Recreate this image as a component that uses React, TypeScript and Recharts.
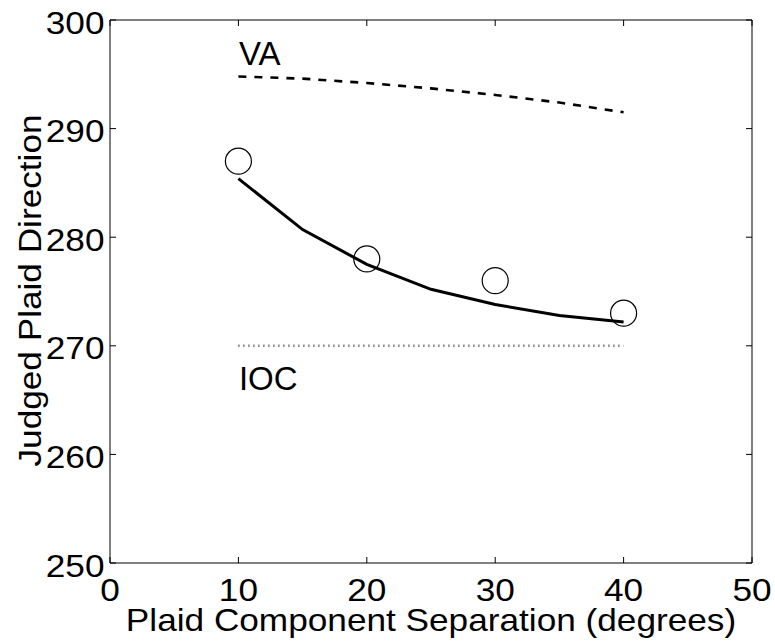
import React from 'react';
import { ComposedChart, Line, Scatter, XAxis, YAxis, ReferenceDot } from 'recharts';

// model curves are sampled every 5 degrees of separation
const curveSep = [10, 15, 20, 25, 30, 35, 40];
const modelFit = [285.4, 280.7, 277.5, 275.2, 273.8, 272.8, 272.2];
const vaPrediction = [294.8, 294.6, 294.2, 293.7, 293.1, 292.4, 291.5];

const iocSep = [10, 40];
const iocPrediction = [270, 270];

// observed judgements (open circles)
const observedSep = [10, 20, 30, 40];
const observedDir = [287, 278, 276, 273];

const xTicks = [0, 10, 20, 30, 40, 50];
const yTicks = [250, 260, 270, 280, 290, 300];

const pair = (xs: number[], ys: number[]) => xs.map((x, i) => ({ x, y: ys[i] }));

const fitData = pair(curveSep, modelFit);
const vaData = pair(curveSep, vaPrediction);
const iocData = pair(iocSep, iocPrediction);
const obsData = pair(observedSep, observedDir);

const FONT = '"Liberation Sans", Arial, Helvetica, sans-serif';
// the original text is a little wider than Arial at the same height
const STRETCH = 1.1;
const TICK = 6; // inward tick length
const X_MARGIN = 20.5;
const Y_MARGIN = 11.5;

// text is placed at (axis - TICK + margin), so the tick mark is recovered from it
function BottomTick({ x, y, payload }: any) {
  const axisY = y - X_MARGIN + TICK;
  return (
    <g>
      <line x1={x} x2={x} y1={axisY} y2={axisY - TICK} stroke="#000" strokeWidth={1} />
      <text
        transform={`translate(${x},${y}) scale(${STRETCH},1)`}
        textAnchor="middle"
        dy={23}
        fontSize={32}
        fontFamily={FONT}
        fill="#000"
      >
        {payload.value}
      </text>
    </g>
  );
}

function LeftTick({ x, y, payload }: any) {
  const axisX = x + Y_MARGIN - TICK;
  return (
    <g>
      <line x1={axisX} x2={axisX + TICK} y1={y} y2={y} stroke="#000" strokeWidth={1} />
      <text
        transform={`translate(${x},${y}) scale(${STRETCH},1)`}
        textAnchor="end"
        dy={13.5}
        fontSize={32}
        fontFamily={FONT}
        fill="#000"
      >
        {payload.value}
      </text>
    </g>
  );
}

function TopTick({ x, y }: any) {
  return <line x1={x} x2={x} y1={y} y2={y - TICK} stroke="#000" strokeWidth={1} />;
}

function RightTick({ x, y }: any) {
  return <line x1={x} x2={x + TICK} y1={y} y2={y} stroke="#000" strokeWidth={1} />;
}

function XTitle({ viewBox }: any) {
  const cx = viewBox.x + viewBox.width / 2;
  const by = viewBox.y + 67.7;
  return (
    <text
      transform={`translate(${cx},${by}) scale(${STRETCH},1)`}
      textAnchor="middle"
      fontSize={32}
      fontFamily={FONT}
      fill="#000"
    >
      Plaid Component Separation (degrees)
    </text>
  );
}

function YTitle({ viewBox }: any) {
  const cy = viewBox.y + viewBox.height / 2 - 1;
  const bx = viewBox.x + 40.7;
  return (
    <text
      transform={`translate(${bx},${cy}) rotate(-90) scale(${STRETCH},1)`}
      textAnchor="middle"
      fontSize={32}
      fontFamily={FONT}
      fill="#000"
    >
      Judged Plaid Direction
    </text>
  );
}

function Tag({ viewBox, text }: any) {
  const x = viewBox.x + viewBox.width / 2;
  const y = viewBox.y + viewBox.height / 2;
  return (
    <text x={x + 0.5} y={y} fontSize={33} fontFamily={FONT} fill="#000">
      {text}
    </text>
  );
}

const OpenCircle = (props: any) => (
  <circle cx={props.cx} cy={props.cy} r={13} fill="none" stroke="#000" strokeWidth={1.2} />
);

export default function App() {
  return (
    <div style={{ position: 'absolute', left: 0, top: 0, background: '#fff' }}>
      <ComposedChart
        width={775}
        height={642}
        margin={{ top: 19, right: 22, bottom: 0, left: 0 }}
      >
        <XAxis
          xAxisId="b"
          dataKey="x"
          type="number"
          domain={[0, 50]}
          ticks={xTicks}
          interval={0}
          allowDataOverflow
          height={79}
          axisLine={{ stroke: '#000', strokeWidth: 1 }}
          tickLine={false}
          tickSize={-TICK}
          tickMargin={X_MARGIN}
          tick={<BottomTick />}
          label={<XTitle />}
        />
        <XAxis
          xAxisId="t"
          orientation="top"
          dataKey="x"
          type="number"
          domain={[0, 50]}
          ticks={xTicks}
          interval={0}
          allowDataOverflow
          height={1}
          axisLine={{ stroke: '#000', strokeWidth: 1 }}
          tickLine={false}
          tickSize={-TICK}
          tickMargin={0}
          tick={<TopTick />}
        />
        <YAxis
          yAxisId="l"
          dataKey="y"
          type="number"
          domain={[250, 300]}
          ticks={yTicks}
          interval={0}
          allowDataOverflow
          width={110}
          axisLine={{ stroke: '#000', strokeWidth: 1 }}
          tickLine={false}
          tickSize={-TICK}
          tickMargin={Y_MARGIN}
          tick={<LeftTick />}
          label={<YTitle />}
        />
        <YAxis
          yAxisId="r"
          orientation="right"
          dataKey="y"
          type="number"
          domain={[250, 300]}
          ticks={yTicks}
          interval={0}
          allowDataOverflow
          width={1}
          axisLine={{ stroke: '#000', strokeWidth: 1 }}
          tickLine={false}
          tickSize={-TICK}
          tickMargin={0}
          tick={<RightTick />}
        />

        <Line
          xAxisId="b"
          yAxisId="l"
          data={vaData}
          dataKey="y"
          type="linear"
          stroke="#000"
          strokeWidth={2.6}
          strokeDasharray="8 8"
          dot={false}
          activeDot={false}
          isAnimationActive={false}
        />
        <Line
          xAxisId="b"
          yAxisId="l"
          data={iocData}
          dataKey="y"
          type="linear"
          stroke="#444"
          strokeWidth={2.5}
          strokeDasharray="1 4"
          dot={false}
          activeDot={false}
          isAnimationActive={false}
        />
        <Line
          xAxisId="b"
          yAxisId="l"
          data={fitData}
          dataKey="y"
          type="linear"
          stroke="#000"
          strokeWidth={3}
          dot={false}
          activeDot={false}
          isAnimationActive={false}
        />
        <Scatter
          xAxisId="b"
          yAxisId="l"
          data={obsData}
          dataKey="y"
          shape={OpenCircle}
          isAnimationActive={false}
        />

        <ReferenceDot
          xAxisId="b"
          yAxisId="l"
          x={10}
          y={295.9}
          r={1}
          fill="none"
          stroke="none"
          ifOverflow="visible"
          label={<Tag text="VA" />}
        />
        <ReferenceDot
          xAxisId="b"
          yAxisId="l"
          x={10}
          y={265.9}
          r={1}
          fill="none"
          stroke="none"
          ifOverflow="visible"
          label={<Tag text="IOC" />}
        />
      </ComposedChart>
    </div>
  );
}
